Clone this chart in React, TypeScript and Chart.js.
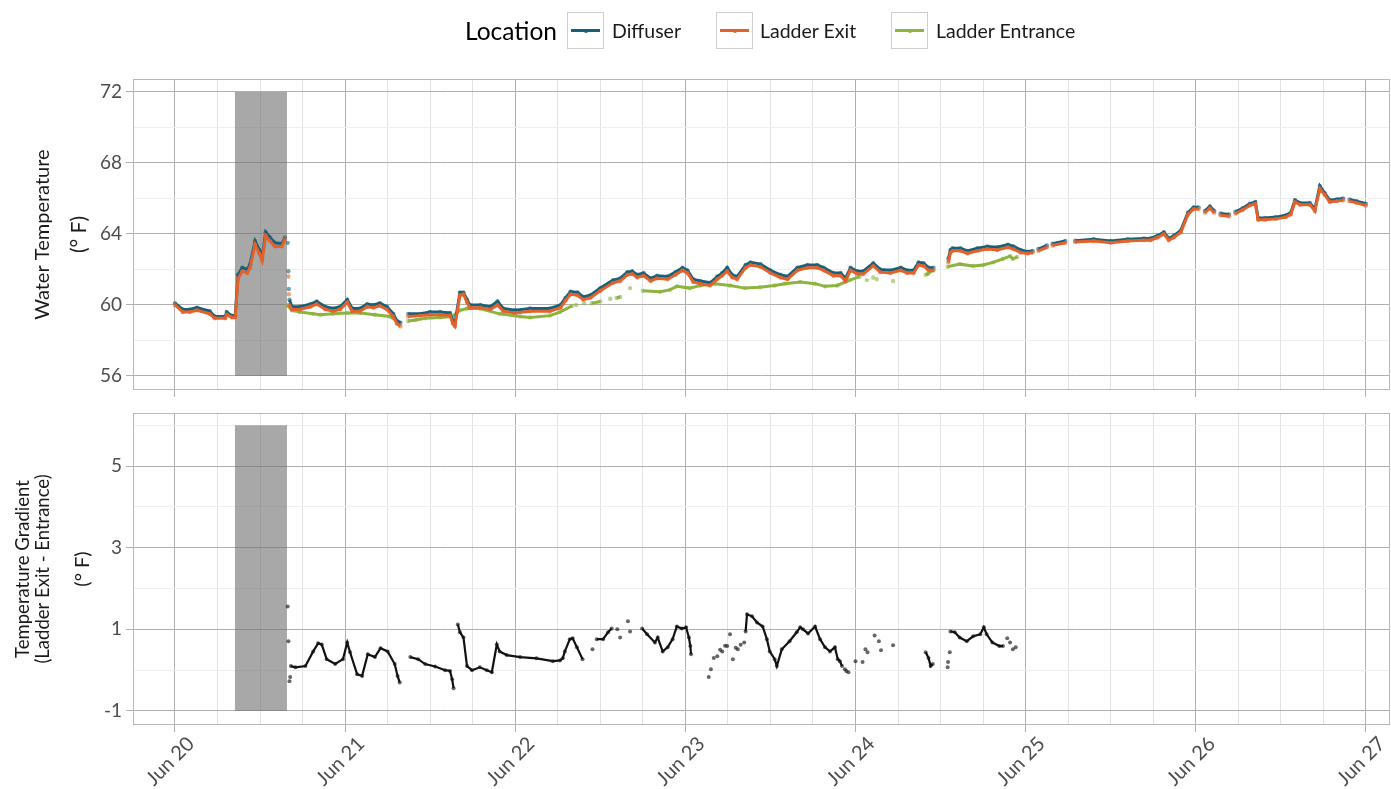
import React, { useEffect, useRef } from 'react';
import { Chart, registerables } from 'chart.js';

Chart.register(...registerables);

const FONT = 'Lato, "Open Sans", sans-serif';

// ---------- data ----------
const xTickLabels = ['Jun 20', 'Jun 21', 'Jun 22', 'Jun 23', 'Jun 24', 'Jun 25', 'Jun 26', 'Jun 27'];
const xMajorHours = [0, 24, 48, 72, 96, 120, 144, 168];
const xGridHours = [0, 6, 12, 18, 24, 30, 36, 42, 48, 54, 60, 66, 72, 78, 84, 90, 96, 102, 108, 114, 120, 126, 132, 138, 144, 150, 156, 162, 168];

const topYGrid = [56, 58, 60, 62, 64, 66, 68, 70, 72];
const topYLabels = [56, 60, 64, 68, 72];
const bottomYGrid = [-1, 0, 1, 2, 3, 4, 5, 6];
const bottomYLabels = [-1, 1, 3, 5];

const shadeWindowHours = [8.46, 15.8];
const topShadeRange = [56, 72];
const bottomShadeRange = [-1, 6];

// hours since Jun 20 00:00 (Diffuser / Ladder Exit)
const deHours = [
  0.0, 1.1, 2.1, 3.1, 4.9, 5.6, 7.1, 7.3, 8.0, 8.5, 8.9, 9.5, 10.2, 10.6, 11.3, 11.9, 12.3, 12.8, 13.4, 14.1, 15.1, 15.5,
  15.7, 15.9, 15.95, 16.0, 16.03, 16.06, 16.1,
  16.15, 16.5, 17.6, 19.1, 20.0, 21.2, 22.3, 23.3, 24.3, 25.0, 26.1, 27.1, 28.0, 28.9, 29.9, 30.8, 31.3, 31.8,
  32.4,
  32.9, 34.6, 36.0, 37.4, 38.8, 39.2, 39.5, 40.2, 40.7, 41.2, 41.6, 43.1, 44.5, 45.5, 46.3, 48.0, 50.1, 52.9, 54.4,
  55.1, 55.8, 56.8, 57.6, 58.6, 60.0, 61.8, 62.8, 63.8, 64.5, 65.2, 66.1, 67.1, 68.0, 69.5, 70.6, 71.6, 72.3, 73.1,
  74.1, 75.5, 76.5, 77.2, 77.9, 78.6, 79.3, 80.5, 81.2, 82.6, 84.0, 85.4, 86.4, 87.8, 89.2, 90.6, 91.5, 92.9, 93.9,
  94.6, 95.3, 96.3, 97.1, 98.5, 99.5, 100.9, 102.4, 103.3, 104.2, 104.9, 105.6, 106.3, 107.0,
  107.8,
  109.1, 109.4, 109.7, 110.8, 111.8, 113.2, 114.6, 116.0, 117.5, 118.3, 119.3, 120.3, 121.0,
  121.4, 121.8, 123.0, 123.4, 123.8, 125.6, 126.2,
  127.0, 129.6, 132.0, 134.4, 136.7, 137.6, 138.6, 139.5, 140.2, 140.9, 141.9, 142.9, 143.7, 144.4,
  144.9, 145.3, 146.0, 146.6, 147.0, 147.5, 148.7, 149.1,
  149.6, 150.6, 151.6, 152.4, 152.8, 153.8, 155.3, 156.7, 157.4, 158.0, 158.7, 160.1, 160.8, 161.5, 162.2, 162.9,
  163.9, 164.8, 165.2, 165.7, 166.7, 168.0,
];
const diffuserTemp = [
  60.1, 59.75, 59.75, 59.85, 59.65, 59.35, 59.35, 59.6, 59.4, 59.4, 61.7, 62.1, 62.0, 62.3, 63.6, 63.1, 62.7, 64.1, 63.8, 63.5, 63.45, 63.8,
  null, 63.5, null, 61.9, null, 60.9, null,
  60.3, 59.9, 59.9, 60.05, 60.2, 59.9, 59.8, 59.9, 60.3, 59.8, 59.8, 60.05, 60.0, 60.1, 59.9, 59.5, 59.1, 59.0,
  null,
  59.5, 59.5, 59.6, 59.6, 59.55, 59.1, 59.0, 60.7, 60.7, 60.3, 60.0, 60.0, 59.9, 60.2, 59.8, 59.7, 59.8, 59.8, 60.0,
  60.4, 60.75, 60.7, 60.45, 60.55, 60.95, 61.4, 61.5, 61.85, 61.9, 61.7, 61.8, 61.5, 61.65, 61.6, 61.85, 62.1, 61.95, 61.45,
  61.35, 61.25, 61.6, 61.8, 62.1, 61.7, 61.6, 62.25, 62.4, 62.3, 61.95, 61.7, 61.6, 62.1, 62.25, 62.25, 62.1, 61.8, 61.8,
  61.5, 62.1, 61.9, 61.9, 62.35, 62.0, 61.95, 62.1, 61.95, 61.95, 62.4, 62.35, 62.1, 62.1,
  null,
  62.6, 63.1, 63.2, 63.2, 63.05, 63.2, 63.3, 63.25, 63.4, 63.3, 63.1, 63.0, 63.05,
  null, 63.15, 63.35, null, 63.45, 63.6, null,
  63.62, 63.7, 63.6, 63.7, 63.75, 63.75, 63.9, 64.1, 63.75, 63.9, 64.2, 65.2, 65.5, 65.5,
  null, 65.3, 65.55, 65.3, null, 65.15, 65.1, null,
  65.25, 65.45, 65.7, 65.8, 64.9, 64.9, 64.95, 65.05, 65.2, 65.9, 65.75, 65.75, 65.4, 66.7, 66.3, 65.9,
  65.95, 66.0, null, 65.95, 65.85, 65.7,
];
const ladderExitTemp = [
  60.0, 59.6, 59.6, 59.7, 59.5, 59.25, 59.25, 59.45, 59.3, 59.3, 61.5, 61.9, 61.8, 62.1, 63.4, 62.9, 62.5, 63.9, 63.6, 63.3, 63.3, 63.7,
  null, null, null, 61.6, null, 60.6, null,
  60.0, 59.75, 59.75, 59.9, 60.05, 59.75, 59.65, 59.75, 60.15, 59.65, 59.65, 59.9, 59.85, 59.95, 59.75, 59.35, 58.95, 58.8,
  null,
  59.35, 59.4, 59.45, 59.45, 59.4, 58.95, 58.8, 60.55, 60.6, 60.15, 59.85, 59.85, 59.75, 60.0, 59.65, 59.55, 59.65, 59.65, 59.85,
  60.25, 60.6, 60.55, 60.3, 60.4, 60.8, 61.25, 61.35, 61.7, 61.75, 61.55, 61.65, 61.35, 61.5, 61.45, 61.7, 61.95, 61.8, 61.3,
  61.2, 61.1, 61.45, 61.65, 61.9, 61.55, 61.45, 62.1, 62.25, 62.15, 61.8, 61.55, 61.45, 61.95, 62.1, 62.1, 61.95, 61.65, 61.65,
  61.35, 61.95, 61.75, 61.75, 62.2, 61.85, 61.8, 61.95, 61.8, 61.8, 62.25, 62.2, 61.95, 61.95,
  null,
  62.4, 62.95, 63.05, 63.05, 62.9, 63.05, 63.15, 63.1, 63.25, 63.15, 62.95, 62.9, 62.95,
  null, 63.05, 63.25, null, 63.35, 63.5, null,
  63.55, 63.6, 63.5, 63.6, 63.65, 63.65, 63.8, 64.0, 63.65, 63.8, 64.1, 65.1, 65.4, 65.4,
  null, 65.2, 65.45, 65.2, null, 65.05, 65.0, null,
  65.15, 65.35, 65.6, 65.7, 64.8, 64.8, 64.85, 64.95, 65.1, 65.8, 65.65, 65.65, 65.3, 66.55, 66.2, 65.8,
  65.85, 65.9, null, 65.85, 65.75, 65.6,
];

// Ladder Entrance
const entranceHours = [
  15.8, 16.5, 17.6, 19.5, 20.5, 22.3, 24.3, 26.1, 28.2, 30.3, 31.5, 31.7,
  32.3,
  32.9, 33.9, 35.3, 37.4, 39.1, 40.2, 41.2, 43.0, 45.8, 48.7, 50.1, 52.9, 54.3, 56.0,
  56.3, 56.6, 57.1, 57.7, 58.3, 58.8, 60.0, 60.7, 61.4, 61.9, 62.3, 62.8, 63.5, 64.2, 65.0,
  66.0, 68.4, 69.8, 70.8, 72.6, 74.1, 76.2, 78.3, 80.4, 82.5, 84.6, 86.0, 88.2, 90.3, 91.7, 93.4, 95.2, 96.6,
  97.1, 97.6, 98.0, 98.5, 98.8, 99.0, 100.0, 101.3, 103.0,
  105.9, 106.2, 106.9,
  108.0,
  109.0, 110.7, 112.6, 114.0, 115.4, 116.8, 117.8, 118.2, 118.8,
];
const ladderEntranceTemp = [
  60.0, 59.7, 59.6, 59.5, 59.45, 59.5, 59.55, 59.55, 59.45, 59.35, 59.05, 59.0,
  null,
  59.1, 59.15, 59.25, 59.3, 59.35, 59.7, 59.8, 59.8, 59.5, 59.35, 59.3, 59.4, 59.6, 59.95,
  null, 60.0, null, 60.1, null, 60.1, 60.2, null, 60.35, null, 60.4, 60.45, null, 60.95, null,
  60.8, 60.75, 60.85, 61.05, 60.95, 61.1, 61.2, 61.1, 60.95, 61.0, 61.1, 61.2, 61.3, 61.2, 61.05, 61.1, 61.4, 61.6,
  null, 61.4, null, 61.55, null, 61.45, null, 61.35, null,
  61.7, 61.75, 61.95,
  null,
  62.15, 62.3, 62.2, 62.25, 62.4, 62.6, 62.75, 62.6, 62.7,
];

// Temperature gradient (Ladder Exit - Entrance)
const gradientHours = [
  15.9, 15.95, 16.0, 16.05, 16.15, 16.2, 16.25, 16.3,
  16.35, 17.0, 18.4, 19.5, 20.2, 20.7, 21.4, 22.6, 23.7, 24.3, 24.7, 25.7, 26.4, 27.2, 28.2, 29.0, 30.0, 31.0, 31.4, 31.7,
  32.5,
  33.2, 34.3, 35.3, 36.7, 38.1, 38.8, 39.1, 39.3,
  39.6,
  39.9, 40.2, 40.7, 41.2, 41.9, 43.0, 44.0, 44.7, 45.4, 45.8, 46.8, 48.7, 51.0, 53.3, 54.3, 54.7, 55.0, 55.7, 56.1, 56.7, 57.5,
  58.2, 58.9, 59.2,
  59.5, 60.4, 61.1, 61.6,
  62.0, 62.4, 62.6, 62.8, 63.3, 63.9, 64.05, 64.2, 64.8,
  65.9, 66.6, 67.7, 68.1, 68.8, 69.5, 70.2, 70.8, 71.5, 72.1, 72.5, 72.7, 72.8,
  73.5, 75.3, 75.45, 75.6, 75.8, 76.0, 76.2, 76.5, 76.8, 76.9, 77.05, 77.2, 77.45, 77.6, 77.75, 77.9, 78.1, 78.3, 78.5,
  78.7, 78.9, 79.1, 79.2, 79.4, 79.6, 79.8, 80.0, 80.3, 80.4,
  80.5, 80.7, 81.4, 82.1, 82.9, 83.5, 83.9, 84.6, 84.9, 85.6, 86.7, 87.7, 88.2, 88.6, 89.3, 90.3, 91.0, 91.7, 92.4, 93.1,
  93.5, 93.8, 94.1,
  94.3, 94.5, 94.6, 94.7, 94.8, 95.0, 95.5, 96.0, 96.5, 97.0, 97.2, 97.4, 97.5, 97.7, 98.0, 98.7, 98.9, 99.3, 99.4, 99.6,
  100.5, 101.3, 102.0,
  105.9, 106.3, 106.6, 106.9,
  107.5, 109.0, 109.03, 109.06, 109.1, 109.3, 109.35,
  109.4, 110.0, 110.7, 111.7, 112.6, 113.6, 114.1, 114.5, 115.3, 116.3, 116.8,
  117.1, 117.4, 117.6, 117.8, 118.0, 118.2, 118.4, 118.6,
];
const gradientValues = [
  1.56, null, 0.71, null, -0.27, null, -0.17, null,
  0.10, 0.07, 0.10, 0.46, 0.66, 0.63, 0.27, 0.15, 0.27, 0.68, 0.44, -0.10, -0.14, 0.39, 0.32, 0.54, 0.46, 0.15, -0.14, -0.30,
  null,
  0.32, 0.27, 0.15, 0.09, 0.00, -0.02, -0.22, -0.44,
  null,
  1.12, 0.93, 0.80, 0.10, 0.00, 0.07, 0.00, -0.05, 0.63, 0.46, 0.37, 0.32, 0.29, 0.22, 0.24, 0.29, 0.46, 0.76, 0.78, 0.56, 0.27,
  null, 0.51, null,
  0.76, 0.76, 0.93, 1.02,
  null, 1.00, null, 0.80, null, 1.20, null, 0.95, null,
  1.02, 0.88, 0.68, 0.80, 0.46, 0.56, 0.76, 1.07, 1.02, 1.05, 0.80, 0.59, 0.39,
  null, -0.17, null, 0.02, null, 0.30, null, 0.34, null, 0.50, null, 0.46, null, 0.60, null, 0.59, null, 0.88, null,
  0.27, null, 0.55, null, 0.51, null, 0.62, null, 0.68, null,
  0.95, 1.37, 1.32, 1.17, 1.07, 0.76, 0.46, 0.27, 0.10, 0.51, 0.71, 0.93, 1.05, 1.00, 0.90, 1.07, 0.76, 0.56, 0.46, 0.56,
  0.27, 0.22, 0.10,
  null, 0.02, null, -0.02, null, -0.05, null, 0.22, null, 0.20, null, 0.51, null, 0.44, null, 0.85, null, 0.71, null, 0.49,
  null, 0.61, null,
  0.44, 0.30, 0.10, 0.15,
  null, 0.07, null, 0.20, null, 0.44, null,
  0.95, 0.93, 0.80, 0.71, 0.83, 0.88, 1.05, 0.88, 0.68, 0.59, 0.59,
  null, 0.78, null, 0.68, null, 0.51, null, 0.56,
];

// ---------- styling ----------
const X_MIN = -5.92;
const X_MAX = 171.4;
const MAJOR = '#b0b0b0';
const MINOR_X = '#e2e2e2';
const MINOR_Y = '#eeeeee';
const TICK_TEXT = '#4d4d4d';
const C_DIFF = '#17607a';
const C_EXIT = '#e3622c';
const C_ENT = '#8cb43e';

const toPoints = (hours: number[], vals: (number | null)[]) => hours.map((h, i) => ({ x: h, y: vals[i] }));

const panelPlugin = {
  id: 'panel',
  beforeDatasetsDraw(chart: any, _args: any, opts: any) {
    const { ctx, scales } = chart;
    const x = scales.x, y = scales.y;
    const l = x.getPixelForValue(shadeWindowHours[0]);
    const r = x.getPixelForValue(shadeWindowHours[1]);
    const t = y.getPixelForValue(opts.shadeRange[1]);
    const b = y.getPixelForValue(opts.shadeRange[0]);
    ctx.save();
    ctx.fillStyle = 'rgba(110,110,110,0.6)';
    ctx.fillRect(l, t, r - l, b - t);
    ctx.restore();
  },
  afterDraw(chart: any, _args: any, opts: any) {
    const { ctx, chartArea: a } = chart;
    ctx.save();
    ctx.strokeStyle = '#b8b8b8';
    ctx.lineWidth = 1;
    ctx.strokeRect(Math.round(a.left) + 0.5, Math.round(a.top) + 0.5, Math.round(a.right - a.left) - 1, Math.round(a.bottom - a.top) - 1);
    // unit label of the y axis title
    ctx.translate(opts.unitX, (a.top + a.bottom) / 2);
    ctx.rotate(-Math.PI / 2);
    ctx.fillStyle = '#1a1a1a';
    ctx.font = `${opts.unitSize}px ${FONT}`;
    ctx.textAlign = 'center';
    ctx.textBaseline = 'middle';
    ctx.fillText('(° F)', 0, 0);
    ctx.restore();
  },
};

function zeroPad(s: any) {
  s.paddingLeft = 0;
  s.paddingRight = 0;
  s.paddingTop = 0;
  s.paddingBottom = 0;
}

function xScale(showLabels: boolean, height: number) {
  return {
    type: 'linear',
    min: X_MIN,
    max: X_MAX,
    afterBuildTicks: (s: any) => { s.ticks = xGridHours.map((v) => ({ value: v })); },
    afterFit: (s: any) => { s.height = height; zeroPad(s); },
    border: { display: false },
    grid: {
      color: (c: any) => (c.tick && xMajorHours.includes(c.tick.value) ? MAJOR : MINOR_X),
      tickColor: (c: any) => (c.tick && xMajorHours.includes(c.tick.value) ? MAJOR : 'rgba(0,0,0,0)'),
      tickLength: 7,
      lineWidth: 1,
    },
    ticks: {
      display: showLabels,
      autoSkip: false,
      maxRotation: 45,
      minRotation: 45,
      padding: 0,
      labelOffset: 16,
      color: TICK_TEXT,
      font: { family: FONT, size: 20 },
      callback: (v: number) => {
        const i = xMajorHours.indexOf(v);
        return i >= 0 ? xTickLabels[i] : '';
      },
    },
  };
}

function yScale(min: number, max: number, grid: number[], labels: number[], title: string[], titlePad: number, titleSize: number) {
  return {
    type: 'linear',
    min,
    max,
    afterBuildTicks: (s: any) => { s.ticks = grid.map((v) => ({ value: v })); },
    afterFit: (s: any) => { s.width = 133; zeroPad(s); },
    border: { display: false },
    grid: {
      color: (c: any) => (c.tick && labels.includes(c.tick.value) ? MAJOR : MINOR_Y),
      tickColor: (c: any) => (c.tick && labels.includes(c.tick.value) ? MAJOR : 'rgba(0,0,0,0)'),
      tickLength: 7,
      lineWidth: 1,
    },
    ticks: {
      autoSkip: false,
      padding: 4,
      color: TICK_TEXT,
      font: { family: FONT, size: 19 },
      callback: (v: number) => (labels.includes(v) ? String(v) : ''),
    },
    title: {
      display: true,
      text: title,
      color: '#1a1a1a',
      font: { family: FONT, size: titleSize, lineHeight: 20 / titleSize },
      padding: { top: titlePad, bottom: 0 },
    },
  };
}

function lineSet(label: string, data: any[], color: string, alphaColor: string, order: number, width = 3, radius = 2.2) {
  return {
    label,
    data,
    borderColor: color,
    backgroundColor: alphaColor,
    pointBackgroundColor: alphaColor,
    pointBorderWidth: 0,
    pointRadius: radius,
    borderWidth: width,
    spanGaps: false,
    order,
    tension: 0,
  };
}

function TopChart() {
  const ref = useRef<HTMLCanvasElement>(null);
  useEffect(() => {
    const chart = new Chart(ref.current as HTMLCanvasElement, {
      type: 'line',
      data: {
        datasets: [
          lineSet('Diffuser', toPoints(deHours, diffuserTemp), C_DIFF, 'rgba(23,96,122,0.6)', 2),
          lineSet('Ladder Exit', toPoints(deHours, ladderExitTemp), C_EXIT, 'rgba(227,98,44,0.6)', 1),
          lineSet('Ladder Entrance', toPoints(entranceHours, ladderEntranceTemp), C_ENT, 'rgba(140,180,62,0.6)', 3),
        ] as any,
      },
      options: {
        animation: false,
        responsive: false,
        layout: { autoPadding: false, padding: { top: 79, right: 1, left: 0, bottom: 0 } },
        plugins: {
          legend: { display: false },
          tooltip: { enabled: false },
          panel: { shadeRange: topShadeRange, unitX: 79, unitSize: 21 },
        } as any,
        scales: {
          x: xScale(false, 10) as any,
          y: yScale(55.21, 72.73, topYGrid, topYLabels, ['Water Temperature'], 33, 20) as any,
        },
      },
      plugins: [panelPlugin],
    });
    return () => chart.destroy();
  }, []);
  return <canvas ref={ref} width={1391} height={400} style={{ position: 'absolute', left: 0, top: 0, width: 1391, height: 400 }} />;
}

function BottomChart() {
  const ref = useRef<HTMLCanvasElement>(null);
  useEffect(() => {
    const chart = new Chart(ref.current as HTMLCanvasElement, {
      type: 'line',
      data: {
        datasets: [
          lineSet('Gradient', toPoints(gradientHours, gradientValues), '#111111', 'rgba(20,20,20,0.65)', 1, 2.2, 2),
        ] as any,
      },
      options: {
        animation: false,
        responsive: false,
        layout: { autoPadding: false, padding: { top: 13, right: 1, left: 0, bottom: 0 } },
        plugins: {
          legend: { display: false },
          tooltip: { enabled: false },
          panel: { shadeRange: bottomShadeRange, unitX: 83, unitSize: 20 },
        } as any,
        scales: {
          x: xScale(true, 64) as any,
          y: yScale(-1.343, 6.3, bottomYGrid, bottomYLabels, ['Temperature Gradient', '(Ladder Exit - Entrance)'], 13, 18.5) as any,
        },
      },
      plugins: [panelPlugin],
    });
    return () => chart.destroy();
  }, []);
  return <canvas ref={ref} width={1391} height={389} style={{ position: 'absolute', left: 0, top: 400, width: 1391, height: 389 }} />;
}

const legendItems = [
  { label: 'Diffuser', color: C_DIFF, box: 567, text: 612 },
  { label: 'Ladder Exit', color: C_EXIT, box: 716, text: 760 },
  { label: 'Ladder Entrance', color: C_ENT, box: 891, text: 936 },
];

function Legend() {
  return (
    <>
      <div style={{ position: 'absolute', left: 465, top: 12, height: 37, lineHeight: '37px', fontSize: 24.5, color: '#000', fontFamily: FONT }}>Location</div>
      {legendItems.map((it) => (
        <React.Fragment key={it.label}>
          <div style={{ position: 'absolute', left: it.box, top: 12, width: 35, height: 35, border: '1px solid #cfcfcf', background: '#fff' }}>
            <div style={{ position: 'absolute', left: 3, right: 3, top: 16, height: 3, background: it.color }} />
            <div style={{ position: 'absolute', left: 15.5, top: 15.5, width: 4, height: 4, borderRadius: 2, background: it.color }} />
          </div>
          <div style={{ position: 'absolute', left: it.text, top: 12, height: 37, lineHeight: '37px', fontSize: 19.5, color: '#1a1a1a', fontFamily: FONT, whiteSpace: 'nowrap' }}>{it.label}</div>
        </React.Fragment>
      ))}
    </>
  );
}

export default function App() {
  return (
    <div style={{ position: 'absolute', left: 0, top: 0, width: 1391, height: 789, background: '#fff', overflow: 'hidden', fontFamily: FONT }}>
      <TopChart />
      <BottomChart />
      <Legend />
    </div>
  );
}
